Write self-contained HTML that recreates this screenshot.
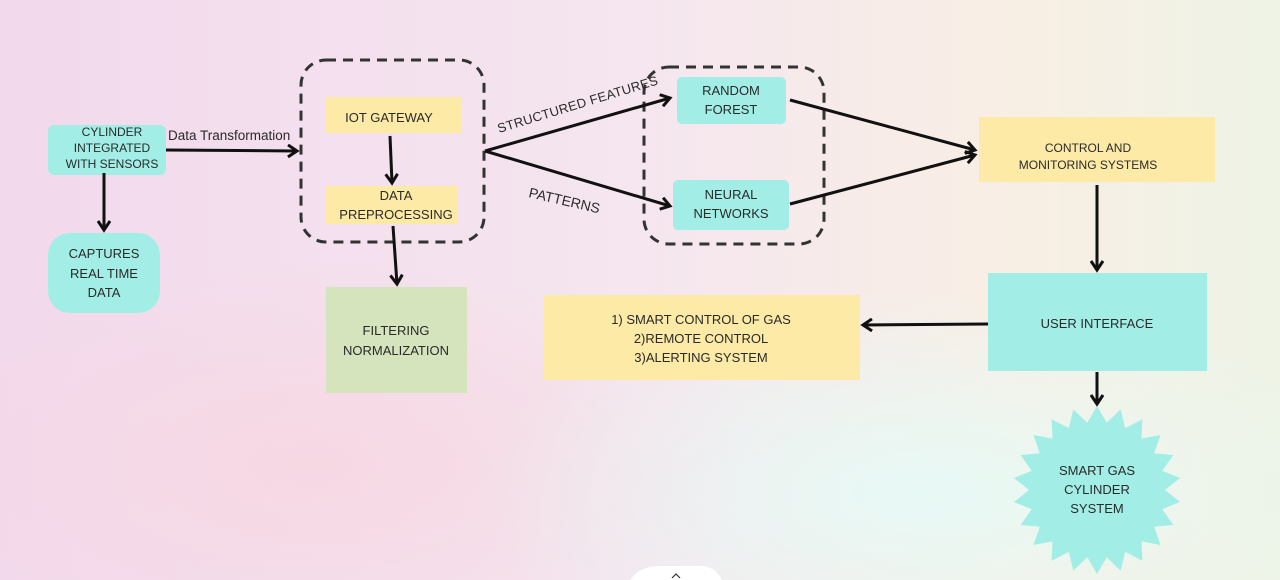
<!DOCTYPE html>
<html><head><meta charset="utf-8"><style>
html,body{margin:0;padding:0;width:1280px;height:580px;overflow:hidden}
svg{display:block}
text{font-family:"Liberation Sans",sans-serif;fill:#2a2a2a}
</style></head><body>
<svg width="1280" height="580" viewBox="0 0 1280 580" xmlns="http://www.w3.org/2000/svg">
<defs>
<linearGradient id="bg" x1="0" y1="0" x2="1" y2="0">
<stop offset="0" stop-color="#f2d9ec"/><stop offset="0.5" stop-color="#f5e6ef"/><stop offset="0.8" stop-color="#f8efe4"/><stop offset="1" stop-color="#eef3e6"/>
</linearGradient>
<radialGradient id="cy" cx="0.72" cy="0.85" r="0.35"><stop offset="0" stop-color="#e6faf6" stop-opacity="0.95"/><stop offset="1" stop-color="#e6faf6" stop-opacity="0"/></radialGradient>
<radialGradient id="pk" cx="0.25" cy="0.8" r="0.35"><stop offset="0" stop-color="#f7d6e0" stop-opacity="0.8"/><stop offset="1" stop-color="#f7d6e0" stop-opacity="0"/></radialGradient>
<marker id="ah" markerWidth="14" markerHeight="14" refX="11" refY="7" orient="auto" markerUnits="userSpaceOnUse"><path d="M2,1 L11,7 L2,13" fill="none" stroke="#111" stroke-width="3"/></marker>
</defs>
<rect width="1280" height="580" fill="url(#bg)"/>
<rect width="1280" height="580" fill="url(#pk)"/>
<rect width="1280" height="580" fill="url(#cy)"/>

<g fill="none" stroke="#333" stroke-width="3" stroke-dasharray="10,7">
<rect x="301" y="60" width="183" height="182" rx="25"/>
<rect x="644" y="67" width="180" height="177" rx="25"/>
</g>

<rect x="48" y="125" width="118" height="50" rx="6" fill="#a2eee6"/>
<text x="112" y="136" font-size="12" text-anchor="middle">CYLINDER</text>
<text x="112" y="152" font-size="12" text-anchor="middle">INTEGRATED</text>
<text x="112" y="168" font-size="12" text-anchor="middle">WITH SENSORS</text>

<rect x="48" y="233" width="112" height="80" rx="22" fill="#a2eee6"/>
<text x="104" y="258" font-size="13" text-anchor="middle">CAPTURES</text>
<text x="104" y="278" font-size="13" text-anchor="middle">REAL TIME</text>
<text x="104" y="297" font-size="13" text-anchor="middle">DATA</text>

<rect x="326" y="97" width="136" height="36" fill="#fdeaa6"/>
<text x="389" y="122" font-size="13" text-anchor="middle">IOT GATEWAY</text>
<rect x="326" y="186" width="132" height="38" fill="#fdeaa6"/>
<text x="396" y="200" font-size="13" text-anchor="middle">DATA</text>
<text x="396" y="219" font-size="13" text-anchor="middle">PREPROCESSING</text>

<rect x="326" y="287" width="141" height="106" fill="#d5e4bd"/>
<text x="396" y="335" font-size="13" text-anchor="middle">FILTERING</text>
<text x="396" y="355" font-size="13" text-anchor="middle">NORMALIZATION</text>

<rect x="677" y="77" width="109" height="47" rx="5" fill="#a2eee6"/>
<text x="731" y="95" font-size="13" text-anchor="middle">RANDOM</text>
<text x="731" y="114" font-size="13" text-anchor="middle">FOREST</text>
<rect x="673" y="180" width="116" height="50" rx="5" fill="#a2eee6"/>
<text x="731" y="199" font-size="13" text-anchor="middle">NEURAL</text>
<text x="731" y="218" font-size="13" text-anchor="middle">NETWORKS</text>

<rect x="979" y="117" width="236" height="65" fill="#fdeaa6"/>
<text x="1088" y="152" font-size="12" text-anchor="middle">CONTROL AND</text>
<text x="1088" y="169" font-size="12" text-anchor="middle">MONITORING SYSTEMS</text>

<rect x="988" y="273" width="219" height="98" fill="#a2eee6"/>
<text x="1097" y="328" font-size="13" text-anchor="middle">USER INTERFACE</text>

<rect x="544" y="295" width="316" height="85" fill="#fdeaa6"/>
<text x="701" y="324" font-size="13" text-anchor="middle">1) SMART CONTROL OF GAS</text>
<text x="701" y="343" font-size="13" text-anchor="middle">2)REMOTE CONTROL</text>
<text x="701" y="362" font-size="13" text-anchor="middle">3)ALERTING SYSTEM</text>

<polygon id="star" fill="#a2eee6" points=""/>
<text x="1097" y="475" font-size="13" text-anchor="middle">SMART GAS</text>
<text x="1097" y="494" font-size="13" text-anchor="middle">CYLINDER</text>
<text x="1097" y="513" font-size="13" text-anchor="middle">SYSTEM</text>

<g stroke="#111" stroke-width="3" fill="none" marker-end="url(#ah)">
<line x1="104" y1="173" x2="104" y2="230"/>
<line x1="166" y1="150" x2="297" y2="151"/>
<line x1="390" y1="136" x2="392" y2="183"/>
<line x1="393" y1="226" x2="397" y2="284"/>
<line x1="485" y1="151" x2="670" y2="98"/>
<line x1="485" y1="151" x2="670" y2="206"/>
<line x1="790" y1="100" x2="975" y2="150"/>
<line x1="790" y1="204" x2="975" y2="155"/>
<line x1="1097" y1="185" x2="1097" y2="270"/>
<line x1="988" y1="324" x2="863" y2="325"/>
<line x1="1097" y1="372" x2="1097" y2="404"/>
</g>

<text x="168" y="140" font-size="13.5">Data Transformation</text>
<text x="0" y="0" font-size="13" transform="translate(499,133) rotate(-17)" letter-spacing="0.3">STRUCTURED FEATURES</text>
<text x="0" y="0" font-size="14" transform="translate(528,197) rotate(13)">PATTERNS</text>

<path d="M630,580 Q640,566 660,566 L700,566 Q715,566 722,580 Z" fill="#fff"/>
<path d="M672,578 L676,574 L680,578" fill="none" stroke="#333" stroke-width="1.2"/>
</svg>
<script>
(function(){var cx=1097,cy=490,R=84,r=68,n=22,p=[];for(var i=0;i<2*n;i++){var a=-Math.PI/2+i*Math.PI/n,rad=i%2?r:R;p.push((cx+rad*Math.cos(a)).toFixed(1)+","+(cy+rad*Math.sin(a)).toFixed(1));}document.getElementById("star").setAttribute("points",p.join(" "));})();
</script>
</body></html>
